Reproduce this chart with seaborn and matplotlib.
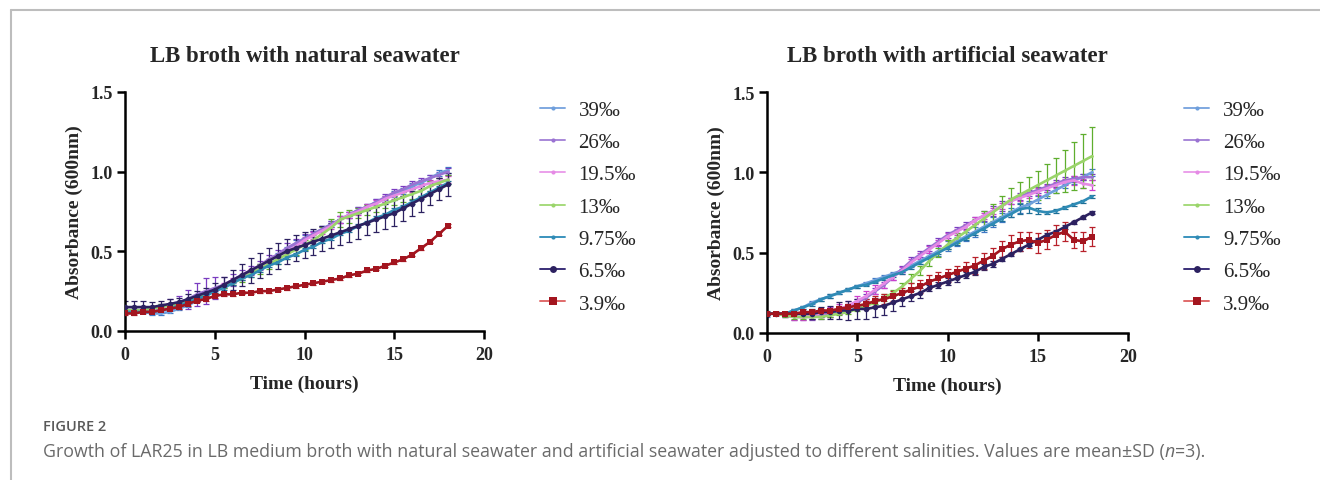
import numpy as np
import pandas as pd
import matplotlib
matplotlib.use("Agg")
import matplotlib.pyplot as plt
from matplotlib.lines import Line2D
import seaborn as sns

sns.set_style("ticks")
plt.rcParams['font.family'] = ['Liberation Serif', 'DejaVu Serif']

# ---------------- data ----------------
time_h = [i * 0.5 for i in range(37)]
labels = ["39‰", "26‰", "19.5‰", "13‰", "9.75‰", "6.5‰", "3.9‰"]

# natural seawater (means)
nat_39 = [.12,.12,.12,.11,.11,.12,.14,.16,.19,.22,.25,.28,.31,.34,.37,.41,.44,.48,.51,.55,.58,.61,.64,.67,.70,.73,.76,.78,.81,.83,.86,.88,.91,.93,.96,.99,1.01]
nat_26 = [.13,.13,.13,.14,.15,.17,.18,.20,.23,.25,.27,.29,.32,.35,.38,.41,.45,.48,.52,.55,.58,.61,.64,.67,.70,.73,.76,.78,.81,.84,.87,.89,.92,.94,.96,.98,1.00]
nat_195 = [.13,.13,.13,.13,.14,.15,.17,.19,.21,.24,.26,.29,.32,.35,.38,.41,.44,.47,.50,.53,.57,.60,.63,.66,.70,.73,.75,.78,.80,.83,.85,.87,.89,.91,.93,.94,.95]
nat_13 = [.13,.13,.13,.14,.15,.16,.17,.19,.21,.23,.25,.28,.30,.33,.36,.39,.42,.45,.48,.51,.54,.57,.61,.65,.70,.72,.74,.76,.78,.80,.82,.84,.86,.88,.91,.93,.95]
nat_975 = [.12,.12,.12,.12,.13,.14,.16,.18,.20,.22,.25,.27,.30,.33,.35,.38,.41,.43,.46,.48,.51,.53,.56,.58,.61,.63,.66,.68,.71,.73,.76,.78,.81,.84,.87,.90,.93]
nat_65 = [.15,.15,.15,.15,.16,.17,.18,.20,.22,.24,.26,.29,.32,.35,.38,.41,.44,.47,.50,.52,.54,.56,.58,.60,.62,.64,.66,.68,.70,.72,.74,.77,.80,.83,.86,.89,.92]
nat_39s = [.11,.11,.12,.12,.13,.14,.15,.17,.19,.20,.22,.23,.23,.24,.24,.25,.25,.26,.27,.28,.29,.30,.31,.32,.33,.35,.36,.38,.39,.41,.43,.45,.48,.52,.56,.61,.66]

# natural seawater (SD)
nat_39_sd = [.01,.01,.01,.01,.01,.01,.01,.01,.01,.01,.01,.01,.01,.01,.01,.01,.01,.01,.02,.02,.02,.02,.02,.02,.02,.02,.02,.02,.02,.02,.02,.02,.02,.02,.02,.02,.02]
nat_26_sd = [.01,.01,.01,.02,.02,.03,.04,.06,.07,.08,.07,.05,.04,.03,.03,.03,.03,.03,.03,.03,.03,.02,.02,.02,.02,.02,.02,.02,.02,.02,.02,.02,.02,.02,.02,.02,.02]
nat_195_sd = [.01,.01,.01,.01,.01,.01,.01,.01,.01,.01,.01,.01,.01,.01,.01,.01,.01,.01,.01,.01,.02,.02,.02,.02,.02,.02,.02,.02,.02,.02,.02,.02,.02,.02,.02,.02,.02]
nat_13_sd = [.01,.01,.01,.01,.02,.01,.01,.01,.01,.01,.01,.01,.01,.02,.02,.03,.03,.03,.03,.03,.03,.03,.04,.05,.05,.04,.03,.03,.03,.03,.03,.03,.03,.03,.03,.03,.03]
nat_975_sd = [.01,.01,.01,.01,.01,.01,.01,.01,.01,.01,.01,.01,.01,.01,.01,.01,.01,.01,.01,.01,.01,.01,.01,.01,.01,.01,.01,.01,.01,.01,.01,.01,.01,.01,.01,.01,.01]
nat_65_sd = [.04,.04,.04,.03,.03,.03,.03,.03,.03,.03,.04,.05,.06,.07,.08,.08,.08,.08,.08,.08,.08,.08,.08,.08,.08,.08,.08,.08,.08,.08,.08,.08,.08,.08,.07,.07,.07]
nat_39s_sd = [.01,.01,.01,.01,.01,.01,.01,.01,.01,.01,.01,.01,.01,.01,.01,.01,.01,.01,.01,.01,.01,.01,.01,.01,.01,.01,.01,.01,.01,.01,.01,.01,.01,.01,.01,.01,.01]

# artificial seawater (means)
art_39 = [.12,.12,.12,.14,.16,.19,.21,.23,.25,.27,.29,.31,.33,.35,.37,.39,.42,.45,.48,.51,.54,.57,.60,.63,.66,.69,.72,.75,.78,.80,.83,.86,.89,.92,.95,.97,1.00]
art_26 = [.12,.12,.11,.10,.10,.10,.11,.12,.14,.16,.19,.22,.26,.30,.35,.40,.45,.49,.53,.57,.61,.64,.67,.70,.73,.76,.79,.82,.85,.87,.89,.91,.93,.95,.96,.97,.97]
art_195 = [.12,.12,.11,.10,.10,.11,.12,.13,.15,.17,.20,.23,.27,.31,.35,.39,.44,.48,.52,.56,.60,.63,.66,.70,.73,.76,.79,.82,.84,.86,.88,.90,.92,.94,.95,.93,.92]
art_13 = [.12,.12,.11,.10,.10,.10,.10,.11,.12,.13,.15,.17,.19,.22,.25,.29,.34,.39,.45,.50,.55,.59,.63,.67,.71,.75,.79,.83,.86,.89,.92,.95,.98,1.01,1.04,1.07,1.10]
art_975 = [.12,.12,.12,.14,.16,.18,.21,.23,.25,.27,.29,.30,.32,.34,.36,.38,.41,.44,.47,.50,.53,.56,.59,.62,.65,.68,.71,.74,.77,.78,.76,.75,.76,.78,.80,.82,.85]
art_65 = [.12,.12,.12,.12,.12,.12,.13,.13,.14,.14,.15,.15,.16,.17,.19,.21,.23,.25,.28,.30,.32,.34,.36,.38,.41,.43,.46,.49,.52,.55,.58,.61,.63,.66,.69,.72,.75]
art_39s = [.12,.12,.12,.12,.13,.13,.14,.14,.15,.16,.17,.18,.20,.21,.23,.25,.27,.29,.32,.34,.36,.38,.40,.42,.45,.48,.52,.55,.57,.58,.56,.58,.61,.63,.58,.57,.60]

# artificial seawater (SD)
art_39_sd = [.02,.01,.01,.01,.01,.01,.01,.01,.01,.01,.01,.01,.01,.01,.01,.01,.01,.02,.02,.03,.03,.03,.03,.03,.03,.03,.03,.03,.03,.02,.02,.02,.02,.02,.02,.02,.02]
art_26_sd = [.01,.01,.01,.02,.02,.02,.02,.02,.02,.02,.02,.02,.02,.02,.02,.02,.02,.02,.02,.02,.02,.02,.02,.02,.03,.03,.03,.02,.02,.02,.02,.02,.02,.02,.02,.02,.02]
art_195_sd = [.01,.01,.01,.02,.02,.02,.02,.03,.03,.03,.03,.03,.03,.03,.02,.02,.02,.02,.02,.02,.02,.02,.02,.02,.02,.02,.02,.02,.02,.02,.02,.02,.02,.02,.03,.03,.03]
art_13_sd = [.01,.01,.01,.01,.01,.01,.01,.01,.01,.01,.01,.01,.01,.02,.02,.02,.03,.03,.03,.03,.03,.03,.04,.04,.05,.05,.06,.07,.08,.08,.09,.10,.11,.13,.15,.17,.18]
art_975_sd = [.01,.01,.01,.01,.01,.01,.01,.01,.01,.01,.01,.01,.01,.01,.01,.01,.01,.01,.01,.01,.01,.01,.01,.01,.01,.01,.01,.02,.03,.03,.02,.01,.01,.01,.01,.01,.01]
art_65_sd = [.01,.01,.01,.01,.02,.03,.03,.04,.05,.06,.06,.06,.06,.06,.05,.04,.03,.03,.02,.02,.02,.02,.02,.02,.02,.02,.01,.01,.01,.01,.01,.01,.01,.01,.01,.01,.01]
art_39s_sd = [.01,.01,.01,.01,.01,.01,.01,.01,.02,.02,.02,.03,.03,.03,.03,.03,.04,.04,.04,.04,.04,.04,.04,.05,.05,.05,.05,.06,.06,.05,.06,.06,.06,.06,.05,.06,.06]

panels = [
    ("LB broth with natural seawater",
     [nat_39, nat_26, nat_195, nat_13, nat_975, nat_65, nat_39s],
     [nat_39_sd, nat_26_sd, nat_195_sd, nat_13_sd, nat_975_sd, nat_65_sd, nat_39s_sd]),
    ("LB broth with artificial seawater",
     [art_39, art_26, art_195, art_13, art_975, art_65, art_39s],
     [art_39_sd, art_26_sd, art_195_sd, art_13_sd, art_975_sd, art_65_sd, art_39s_sd]),
]

# ---------------- style ----------------
line_colors = ["#6f9fdc", "#9a72d2", "#e58ae5", "#9ad46a", "#2f8bb5", "#2c2160", "#a3151f"]
err_colors = ["#3f78c4", "#7a3cc0", "#cc3fcc", "#5fae2e", "#1f6f96", "#2c2160", "#b8202a"]
legend_line_colors = ["#7fa8e0", "#a888d8", "#eba0eb", "#a6da7c", "#3a93bd", "#3a2f78", "#e06a6a"]
markers = ["o", "o", "o", "o", "o", "o", "s"]
msizes = [2, 2, 2, 2, 2, 4, 4.5]

W, H = 1320, 481
fig = plt.figure(figsize=(13.2, 4.81), dpi=100)
axes_pos = [
    [125 / W, 1 - 332 / H, (484 - 125) / W, (332 - 93) / H],
    [767 / W, 1 - 334 / H, (1128 - 767) / W, (334 - 93) / H],
]

for pos, (title, means, sds) in zip(axes_pos, panels):
    ax = fig.add_axes(pos)
    for i in range(7):
        ax.errorbar(time_h, means[i], yerr=sds[i], fmt="none", ecolor=err_colors[i],
                    elinewidth=0.9, capsize=2.2, capthick=0.9, zorder=2 + i * 0.1)
    for i in range(7):
        sns.lineplot(x=time_h, y=means[i], ax=ax, color=line_colors[i], lw=1.9,
                     marker=markers[i], markersize=msizes[i], markeredgewidth=0,
                     zorder=3 + i * 0.1, legend=False)
    ax.set_xlim(0, 20)
    ax.set_ylim(0, 1.5)
    ax.set_xticks([0, 5, 10, 15, 20])
    ax.set_yticks([0.0, 0.5, 1.0, 1.5])
    ax.set_yticklabels(["0.0", "0.5", "1.0", "1.5"])
    for s in ["top", "right"]:
        ax.spines[s].set_visible(False)
    for s in ["left", "bottom"]:
        ax.spines[s].set_linewidth(1.8)
        ax.spines[s].set_color("black")
    ax.tick_params(axis="both", direction="out", length=6, width=1.8, labelsize=13, color="black")
    ax.tick_params(axis="x", pad=5)
    ax.tick_params(axis="y", pad=3)
    for lab in ax.get_xticklabels() + ax.get_yticklabels():
        lab.set_fontweight("bold")
    ax.set_xlabel("Time (hours)", fontsize=14, fontweight="bold", labelpad=8)
    ax.set_ylabel("Absorbance (600nm)", fontsize=14, fontweight="bold", labelpad=5)
    ax.set_title(title, fontsize=16.5, fontweight="bold", pad=22)

    handles = [Line2D([0], [0], color=legend_line_colors[i], lw=1.4, marker=markers[i],
                      markersize=msizes[i] + 1, markerfacecolor=line_colors[i],
                      markeredgewidth=0) for i in range(7)]
    ax.legend(handles, labels, loc="upper left", bbox_to_anchor=(1.133, 1.0),
              frameon=False, fontsize=15, handlelength=1.2, handletextpad=0.65,
              labelspacing=0.61, borderaxespad=0.0)

# frame lines
fig.add_artist(Line2D([11 / W, 1], [1 - 11 / H, 1 - 11 / H], transform=fig.transFigure,
                      color="#bdbdbd", lw=1.5))
fig.add_artist(Line2D([11 / W, 11 / W], [0, 1 - 11 / H], transform=fig.transFigure,
                      color="#bdbdbd", lw=1.5))

fig.text(43 / W, 1 - 427 / H, "FIGURE 2", family="Open Sans", fontsize=10.5,
         fontweight="semibold", color="#595959", va="center", ha="left")

cap_kw = dict(family="Open Sans", fontsize=12.8, color="#6a6a6a", va="baseline", ha="left")
cap_y = 1 - 457 / H
parts = [
    ("Growth of LAR25 in LB medium broth with natural seawater and artificial seawater adjusted to different salinities. Values are mean\u00b1SD (", "normal"),
    ("n", "italic"),
    ("=3).", "normal"),
]
renderer = fig.canvas.get_renderer()
x = 43 / W
for txt, st in parts:
    t = fig.text(x, cap_y, txt, style=st, **cap_kw)
    bb = t.get_window_extent(renderer)
    x = bb.x1 / W

fig.savefig("out.png", dpi=100)
